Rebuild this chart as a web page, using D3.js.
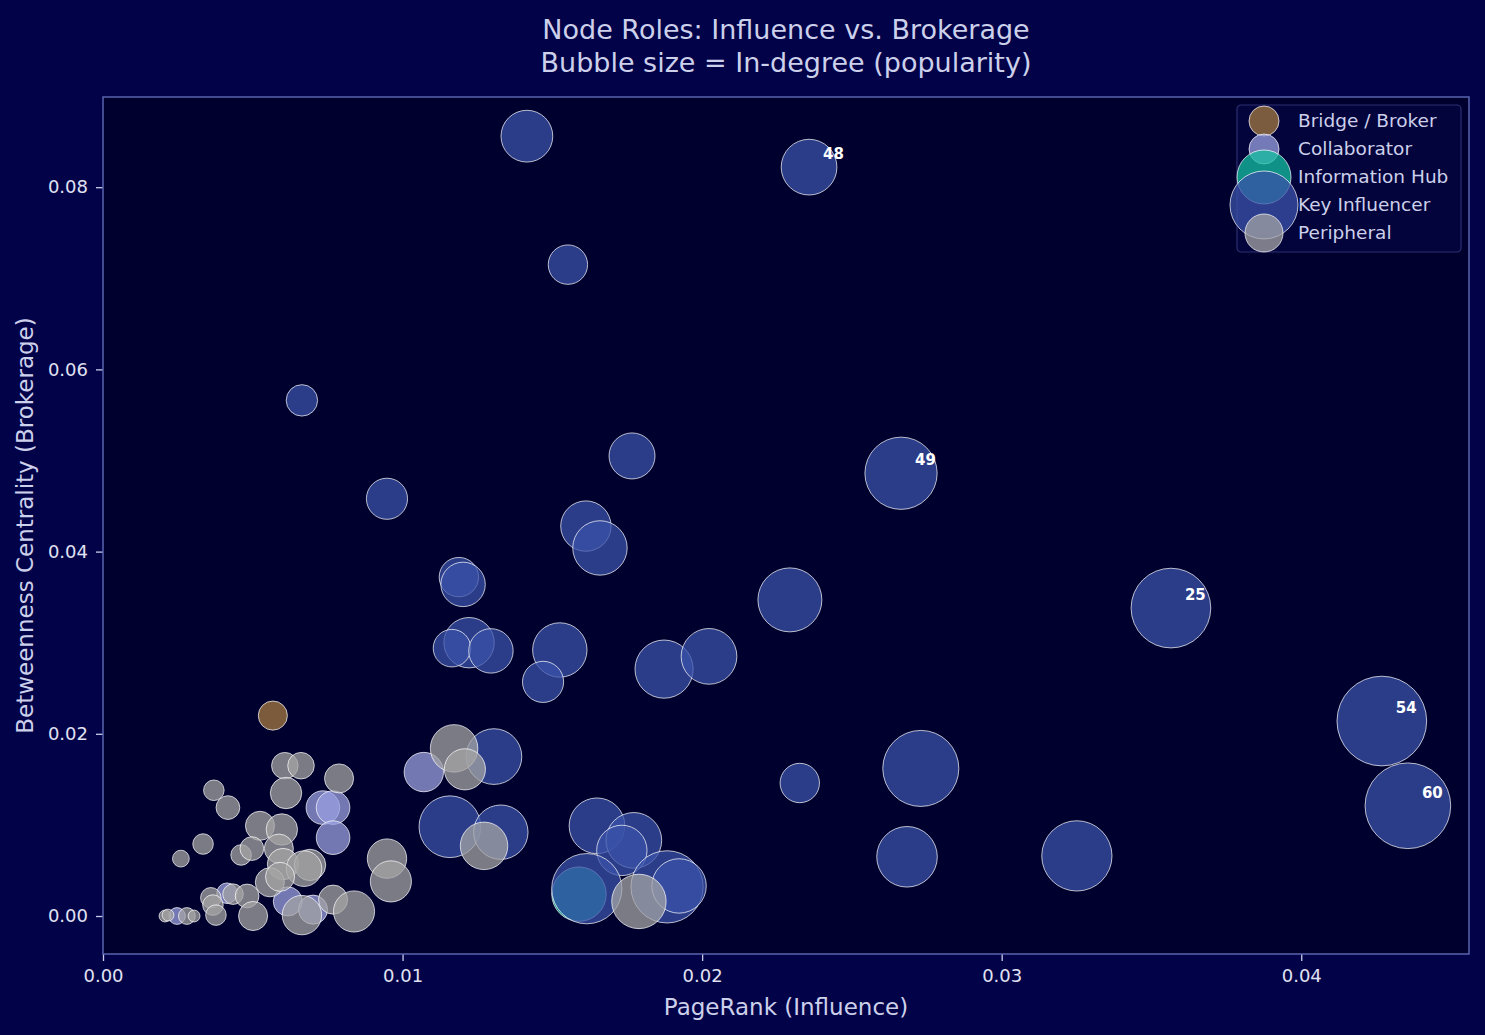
<!DOCTYPE html>
<html>
<head>
<meta charset="utf-8">
<script src="https://cdn.jsdelivr.net/npm/d3@7"></script>
<style>
  body { margin: 0; background: #020249; }
  text { font-family: "DejaVu Sans", sans-serif; }
</style>
</head>
<body>
<div id="chart"></div>
<script>
// chart data
var roles = ["Bridge / Broker", "Collaborator", "Information Hub", "Key Influencer", "Peripheral"];
var roleColors = ["#a47a40", "#9aa0e0", "#14c0a0", "#3a52a8", "#a4a4a4"];

// one entry per node: role index, pagerank, betweenness, in-degree
var nodeRole = [
    0,
    1, 1, 1, 1, 1, 1, 1, 1,
    2,
    3, 3, 3, 3, 3, 3, 3, 3, 3, 3, 3, 3, 3, 3, 3, 3, 3, 3,
    3, 3, 3, 3, 3, 3, 3, 3, 3, 3, 3, 3, 3, 3, 3, 3, 3,
    4, 4, 4, 4, 4, 4, 4, 4, 4, 4, 4, 4, 4, 4, 4, 4, 4, 4, 4,
    4, 4, 4, 4, 4, 4, 4, 4, 4, 4, 4, 4, 4, 4, 4, 4, 4, 4
];
var pageRank = [
    0.00567,
    0.01071, 0.00734, 0.00768, 0.00768, 0.00414, 0.00617, 0.00701, 0.00247,
    0.01589,
    0.01415, 0.02357, 0.01552, 0.00664, 0.01766, 0.02664, 0.00948, 0.01612, 0.01659, 0.01188,
    0.01202, 0.02293, 0.03565, 0.01222, 0.01165, 0.01295, 0.01525, 0.01469, 0.01873, 0.02023,
    0.04269, 0.04356, 0.02730, 0.02326, 0.01305, 0.01158, 0.01328, 0.01649, 0.01772, 0.01732,
    0.02684, 0.03251, 0.01615, 0.01883, 0.01923,
    0.01172, 0.01208, 0.01272, 0.01789, 0.00948, 0.00961, 0.00607, 0.00661, 0.00788, 0.00611,
    0.00370, 0.00417, 0.00524, 0.00597, 0.00334, 0.00260, 0.00461, 0.00497, 0.00587, 0.00601,
    0.00691, 0.00671, 0.00557, 0.00591, 0.00360, 0.00367, 0.00377, 0.00434, 0.00481, 0.00501,
    0.00664, 0.00768, 0.00838, 0.00207, 0.00217, 0.00280, 0.00304
];
var betweenness = [
    0.0220,
    0.0158, 0.0119, 0.0119, 0.0086, 0.0025, 0.0016, 0.0007, 0.0000,
    0.0024,
    0.0856, 0.0822, 0.0715, 0.0566, 0.0505, 0.0486, 0.0458, 0.0428, 0.0404, 0.0372,
    0.0364, 0.0347, 0.0338, 0.0300, 0.0294, 0.0291, 0.0292, 0.0257, 0.0271, 0.0285,
    0.0214, 0.0121, 0.0162, 0.0146, 0.0175, 0.0098, 0.0092, 0.0099, 0.0083, 0.0072,
    0.0065, 0.0066, 0.0030, 0.0032, 0.0033,
    0.0184, 0.0161, 0.0077, 0.0016, 0.0063, 0.0038, 0.0165, 0.0165, 0.0151, 0.0135,
    0.0138, 0.0119, 0.0099, 0.0095, 0.0079, 0.0063, 0.0067, 0.0074, 0.0074, 0.0057,
    0.0056, 0.0052, 0.0037, 0.0043, 0.0020, 0.0012, 0.0001, 0.0024, 0.0022, 0.0000,
    0.0001, 0.0018, 0.0005, 0.0000, 0.0001, 0.0000, 0.0000
];
var inDegree = [
    6,
    11, 8, 8, 8, 3, 6, 6, 2,
    21,
    19, 22, 11, 7, 15, 37, 12, 18, 21, 11,
    14, 29, 45, 18, 10, 14, 21, 12, 24, 22,
    57, 52, 41, 11, 22, 27, 21, 22, 22, 18,
    26, 35, 35, 37, 21,
    16, 12, 16, 21, 11, 12, 5, 5, 6, 7,
    3, 4, 6, 7, 3, 2, 3, 4, 6, 7,
    7, 9, 6, 6, 3, 3, 3, 3, 4, 6,
    11, 6, 12, 1, 1, 2, 1
];
// top nodes annotated with their id
var labelIndex = [11, 15, 22, 30, 31];
var labelText = ["48", "49", "25", "54", "60"];

var xTicks = [0, 0.01, 0.02, 0.03, 0.04];
var yTicks = [0, 0.02, 0.04, 0.06, 0.08];
var legendRadius = [15, 15, 27, 34, 19];

var svgWidth = 1485;
var svgHeight = 1035;

var margin = { top: 97, right: 16, bottom: 81, left: 103 };
var width = svgWidth - margin.left - margin.right;
var height = svgHeight - margin.top - margin.bottom;

var svg = d3.select("#chart")
    .append("svg")
    .attr("width", svgWidth)
    .attr("height", svgHeight);

svg.append("rect")
    .attr("width", svgWidth)
    .attr("height", svgHeight)
    .attr("fill", "#020249");

var chartGroup = svg.append("g")
    .attr("transform", `translate(${margin.left},${margin.top})`);

// scales
var xScale = d3.scaleLinear()
    .domain([0, 0.0456])
    .range([0, width]);

var yScale = d3.scaleLinear()
    .domain([-0.00417, 0.0899])
    .range([height, 0]);

var rScale = d3.scaleSqrt()
    .domain([0, 60])
    .range([0, 46]);

// axes background
chartGroup.append("rect")
    .attr("width", width)
    .attr("height", height)
    .attr("fill", "#00002e");

var nodes = nodeRole.map(function (r, i) {
    return { role: r, pr: pageRank[i], bt: betweenness[i], deg: inDegree[i] };
});

// draw one role after another, like the original loop over groups
roles.forEach(function (role, ri) {
    chartGroup.append("g")
        .selectAll("circle")
        .data(nodes.filter(d => d.role === ri))
        .enter()
        .append("circle")
        .attr("cx", d => xScale(d.pr))
        .attr("cy", d => yScale(d.bt))
        .attr("r", d => rScale(d.deg))
        .attr("fill", roleColors[ri])
        .attr("fill-opacity", 0.75)
        .attr("stroke", "#ffffff")
        .attr("stroke-opacity", 0.7)
        .attr("stroke-width", 1);
});

// labels for the top nodes
chartGroup.selectAll(".nodeLabel")
    .data(labelIndex)
    .enter()
    .append("text")
    .attr("class", "nodeLabel")
    .attr("x", i => xScale(pageRank[i]) + 14)
    .attr("y", i => yScale(betweenness[i]) - 8)
    .attr("fill", "#ffffff")
    .style("font-size", "15px")
    .style("font-weight", "bold")
    .text((i, k) => labelText[k]);

// axes
var bottomAxis = d3.axisBottom(xScale)
    .tickValues(xTicks)
    .tickFormat(d3.format(".2f"))
    .tickSize(7)
    .tickPadding(8);
var leftAxis = d3.axisLeft(yScale)
    .tickValues(yTicks)
    .tickFormat(d3.format(".2f"))
    .tickSize(7)
    .tickPadding(8);

var xAxisG = chartGroup.append("g")
    .attr("transform", `translate(0, ${height})`)
    .call(bottomAxis);
var yAxisG = chartGroup.append("g")
    .call(leftAxis);

[xAxisG, yAxisG].forEach(function (g) {
    g.select(".domain").remove();
    g.selectAll("line").attr("stroke", "#c8cce8").attr("stroke-width", 1.3);
    g.selectAll("text")
        .attr("fill", "#e0e2f2")
        .style("font-size", "18px")
        .style("font-family", "DejaVu Sans");
});

// frame
chartGroup.append("rect")
    .attr("width", width)
    .attr("height", height)
    .attr("fill", "none")
    .attr("stroke", "#5a64b0")
    .attr("stroke-width", 1.5);

// titles
svg.append("text")
    .attr("x", margin.left + width / 2)
    .attr("y", 39)
    .attr("text-anchor", "middle")
    .attr("fill", "#ccd0ea")
    .style("font-size", "27px")
    .text("Node Roles: Influence vs. Brokerage");
svg.append("text")
    .attr("x", margin.left + width / 2)
    .attr("y", 72)
    .attr("text-anchor", "middle")
    .attr("fill", "#ccd0ea")
    .style("font-size", "27px")
    .text("Bubble size = In-degree (popularity)");

// axis labels
svg.append("text")
    .attr("x", margin.left + width / 2)
    .attr("y", 1015)
    .attr("text-anchor", "middle")
    .attr("fill", "#ccd0ea")
    .style("font-size", "23px")
    .text("PageRank (Influence)");
svg.append("text")
    .attr("transform", `translate(33, ${margin.top + height / 2}) rotate(-90)`)
    .attr("text-anchor", "middle")
    .attr("fill", "#ccd0ea")
    .style("font-size", "23px")
    .text("Betweenness Centrality (Brokerage)");

// legend
var legend = svg.append("g")
    .attr("transform", "translate(1237, 105)");
legend.append("rect")
    .attr("width", 224)
    .attr("height", 147)
    .attr("rx", 4)
    .attr("fill", "#05053f")
    .attr("fill-opacity", 0.85)
    .attr("stroke", "#2c2f70")
    .attr("stroke-width", 1.2);

var legendItems = legend.selectAll(".legendItem")
    .data(roles)
    .enter()
    .append("g")
    .attr("class", "legendItem")
    .attr("transform", (d, i) => `translate(0, ${16 + i * 28})`);

legendItems.append("circle")
    .attr("cx", 27)
    .attr("cy", 0)
    .attr("r", (d, i) => legendRadius[i])
    .attr("fill", (d, i) => roleColors[i])
    .attr("fill-opacity", 0.75)
    .attr("stroke", "#ffffff")
    .attr("stroke-opacity", 0.7)
    .attr("stroke-width", 1);

legendItems.append("text")
    .attr("x", 61)
    .attr("y", 6)
    .attr("fill", "#ccd0ea")
    .style("font-size", "18.5px")
    .text(d => d);
</script>
</body>
</html>
